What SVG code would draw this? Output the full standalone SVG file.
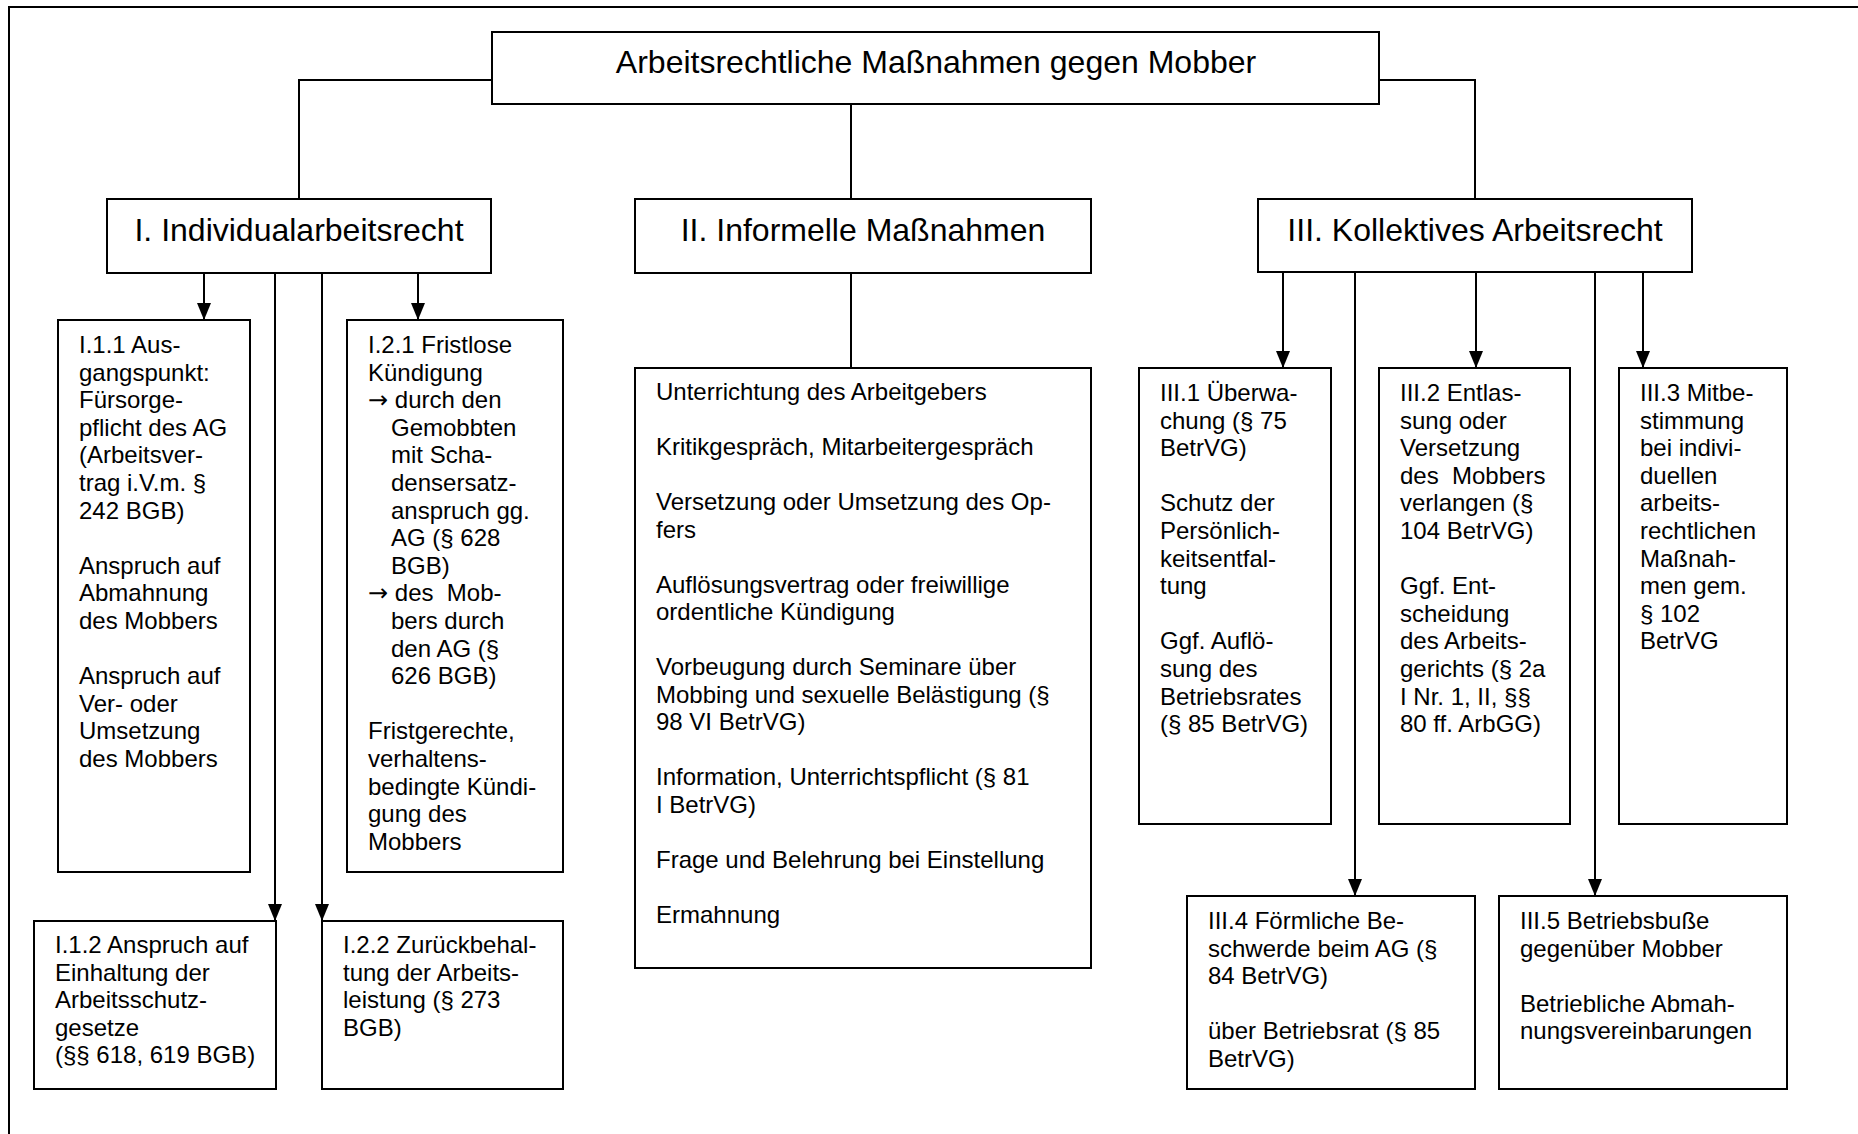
<svg xmlns="http://www.w3.org/2000/svg" width="1858" height="1134" viewBox="0 0 1858 1134">
<style>
.box{fill:#fff;stroke:#000;stroke-width:2}
.ln{fill:none;stroke:#000;stroke-width:2}
.h{font-family:"Liberation Sans",Arial,sans-serif;font-size:32px;fill:#000;text-anchor:middle}
.t{font-family:"Liberation Sans",Arial,sans-serif;font-size:24px;fill:#000}
.ar{font-family:"DejaVu Sans",sans-serif;font-size:24px}
</style>
<defs>
<marker id="arr" markerUnits="userSpaceOnUse" markerWidth="17" markerHeight="14" refX="17" refY="7" orient="auto" viewBox="0 0 17 14">
<path d="M0,0 L17,7 L0,14 z" fill="#000"/>
</marker>
</defs>
<rect width="1858" height="1134" fill="#fff"/>
<g id="frame">
<path class="ln" d="M9,1134 V7 H1858"/>
</g>
<g id="connectors">
<path class="ln" d="M492,80 H299 V199"/>
<path class="ln" d="M851,104 V199"/>
<path class="ln" d="M1379,80 H1475 V199"/>
<path class="ln" d="M851,273 V368"/>
<path class="ln" d="M204,273 V320" marker-end="url(#arr)"/>
<path class="ln" d="M418,273 V320" marker-end="url(#arr)"/>
<path class="ln" d="M275,273 V921" marker-end="url(#arr)"/>
<path class="ln" d="M322,273 V921" marker-end="url(#arr)"/>
<path class="ln" d="M1283,272 V368" marker-end="url(#arr)"/>
<path class="ln" d="M1476,272 V368" marker-end="url(#arr)"/>
<path class="ln" d="M1643,272 V368" marker-end="url(#arr)"/>
<path class="ln" d="M1355,272 V896" marker-end="url(#arr)"/>
<path class="ln" d="M1595,272 V896" marker-end="url(#arr)"/>
</g>
<g id="root">
<rect class="box" x="492" y="32" width="887" height="72"/>
<text class="h" x="936" y="73">Arbeitsrechtliche Maßnahmen gegen Mobber</text>
</g>
<g id="n-I">
<rect class="box" x="107" y="199" width="384" height="74"/>
<text class="h" x="299" y="241">I. Individualarbeitsrecht</text>
</g>
<g id="n-II">
<rect class="box" x="635" y="199" width="456" height="74"/>
<text class="h" x="863" y="241">II. Informelle Maßnahmen</text>
</g>
<g id="n-III">
<rect class="box" x="1258" y="199" width="434" height="73"/>
<text class="h" x="1475" y="241">III. Kollektives Arbeitsrecht</text>
</g>
<g id="n-I11">
<rect class="box" x="58" y="320" width="192" height="552"/>
<text class="t"><tspan x="79" y="353">I.1.1 Aus-</tspan><tspan x="79" y="380.6">gangspunkt:</tspan><tspan x="79" y="408.2">Fürsorge-</tspan><tspan x="79" y="435.8">pflicht des AG</tspan><tspan x="79" y="463.4">(Arbeitsver-</tspan><tspan x="79" y="491">trag i.V.m. §</tspan><tspan x="79" y="518.6">242 BGB)</tspan><tspan x="79" y="573.8">Anspruch auf</tspan><tspan x="79" y="601.4">Abmahnung</tspan><tspan x="79" y="629">des Mobbers</tspan><tspan x="79" y="684.2">Anspruch auf</tspan><tspan x="79" y="711.8">Ver- oder</tspan><tspan x="79" y="739.4">Umsetzung</tspan><tspan x="79" y="767">des Mobbers</tspan></text>
</g>
<g id="n-I21">
<rect class="box" x="347" y="320" width="216" height="552"/>
<text class="t"><tspan x="368" y="353">I.2.1 Fristlose</tspan><tspan x="368" y="380.6">Kündigung</tspan><tspan x="368" y="408.2"><tspan class="ar">→</tspan> durch den</tspan><tspan x="391" y="435.8">Gemobbten</tspan><tspan x="391" y="463.4">mit Scha-</tspan><tspan x="391" y="491">densersatz-</tspan><tspan x="391" y="518.6">anspruch gg.</tspan><tspan x="391" y="546.2">AG (§ 628</tspan><tspan x="391" y="573.8">BGB)</tspan><tspan x="368" y="601.4"><tspan class="ar">→</tspan> des&#160; Mob-</tspan><tspan x="391" y="629">bers durch</tspan><tspan x="391" y="656.6">den AG (§</tspan><tspan x="391" y="684.2">626 BGB)</tspan><tspan x="368" y="739.4">Fristgerechte,</tspan><tspan x="368" y="767">verhaltens-</tspan><tspan x="368" y="794.6">bedingte Kündi-</tspan><tspan x="368" y="822.2">gung des</tspan><tspan x="368" y="849.8">Mobbers</tspan></text>
</g>
<g id="n-I12">
<rect class="box" x="34" y="921" width="242" height="168"/>
<text class="t"><tspan x="55" y="953">I.1.2 Anspruch auf</tspan><tspan x="55" y="980.6">Einhaltung der</tspan><tspan x="55" y="1008.2">Arbeitsschutz-</tspan><tspan x="55" y="1035.8">gesetze</tspan><tspan x="55" y="1063.4">(§§ 618, 619 BGB)</tspan></text>
</g>
<g id="n-I22">
<rect class="box" x="322" y="921" width="241" height="168"/>
<text class="t"><tspan x="343" y="953">I.2.2 Zurückbehal-</tspan><tspan x="343" y="980.6">tung der Arbeits-</tspan><tspan x="343" y="1008.2">leistung (§ 273</tspan><tspan x="343" y="1035.8">BGB)</tspan></text>
</g>
<g id="n-II-list">
<rect class="box" x="635" y="368" width="456" height="600"/>
<text class="t"><tspan x="656" y="400">Unterrichtung des Arbeitgebers</tspan><tspan x="656" y="455">Kritikgespräch, Mitarbeitergespräch</tspan><tspan x="656" y="510">Versetzung oder Umsetzung des Op-</tspan><tspan x="656" y="537.5">fers</tspan><tspan x="656" y="592.5">Auflösungsvertrag oder freiwillige</tspan><tspan x="656" y="620">ordentliche Kündigung</tspan><tspan x="656" y="675">Vorbeugung durch Seminare über</tspan><tspan x="656" y="702.5">Mobbing und sexuelle Belästigung (§</tspan><tspan x="656" y="730">98 VI BetrVG)</tspan><tspan x="656" y="785">Information, Unterrichtspflicht (§ 81</tspan><tspan x="656" y="812.5">I BetrVG)</tspan><tspan x="656" y="867.5">Frage und Belehrung bei Einstellung</tspan><tspan x="656" y="922.5">Ermahnung</tspan></text>
</g>
<g id="n-III1">
<rect class="box" x="1139" y="368" width="192" height="456"/>
<text class="t"><tspan x="1160" y="401">III.1 Überwa-</tspan><tspan x="1160" y="428.6">chung (§ 75</tspan><tspan x="1160" y="456.2">BetrVG)</tspan><tspan x="1160" y="511.4">Schutz der</tspan><tspan x="1160" y="539">Persönlich-</tspan><tspan x="1160" y="566.6">keitsentfal-</tspan><tspan x="1160" y="594.2">tung</tspan><tspan x="1160" y="649.4">Ggf. Auflö-</tspan><tspan x="1160" y="677">sung des</tspan><tspan x="1160" y="704.6">Betriebsrates</tspan><tspan x="1160" y="732.2">(§ 85 BetrVG)</tspan></text>
</g>
<g id="n-III2">
<rect class="box" x="1379" y="368" width="191" height="456"/>
<text class="t"><tspan x="1400" y="401">III.2 Entlas-</tspan><tspan x="1400" y="428.6">sung oder</tspan><tspan x="1400" y="456.2">Versetzung</tspan><tspan x="1400" y="483.8">des&#160; Mobbers</tspan><tspan x="1400" y="511.4">verlangen (§</tspan><tspan x="1400" y="539">104 BetrVG)</tspan><tspan x="1400" y="594.2">Ggf. Ent-</tspan><tspan x="1400" y="621.8">scheidung</tspan><tspan x="1400" y="649.4">des Arbeits-</tspan><tspan x="1400" y="677">gerichts (§ 2a</tspan><tspan x="1400" y="704.6">I Nr. 1, II, §§</tspan><tspan x="1400" y="732.2">80 ff. ArbGG)</tspan></text>
</g>
<g id="n-III3">
<rect class="box" x="1619" y="368" width="168" height="456"/>
<text class="t"><tspan x="1640" y="401">III.3 Mitbe-</tspan><tspan x="1640" y="428.6">stimmung</tspan><tspan x="1640" y="456.2">bei indivi-</tspan><tspan x="1640" y="483.8">duellen</tspan><tspan x="1640" y="511.4">arbeits-</tspan><tspan x="1640" y="539">rechtlichen</tspan><tspan x="1640" y="566.6">Maßnah-</tspan><tspan x="1640" y="594.2">men gem.</tspan><tspan x="1640" y="621.8">§ 102</tspan><tspan x="1640" y="649.4">BetrVG</tspan></text>
</g>
<g id="n-III4">
<rect class="box" x="1187" y="896" width="288" height="193"/>
<text class="t"><tspan x="1208" y="929">III.4 Förmliche Be-</tspan><tspan x="1208" y="956.6">schwerde beim AG (§</tspan><tspan x="1208" y="984.2">84 BetrVG)</tspan><tspan x="1208" y="1039.4">über Betriebsrat (§ 85</tspan><tspan x="1208" y="1067">BetrVG)</tspan></text>
</g>
<g id="n-III5">
<rect class="box" x="1499" y="896" width="288" height="193"/>
<text class="t"><tspan x="1520" y="929">III.5 Betriebsbuße</tspan><tspan x="1520" y="956.6">gegenüber Mobber</tspan><tspan x="1520" y="1011.8">Betriebliche Abmah-</tspan><tspan x="1520" y="1039.4">nungsvereinbarungen</tspan></text>
</g>
</svg>
